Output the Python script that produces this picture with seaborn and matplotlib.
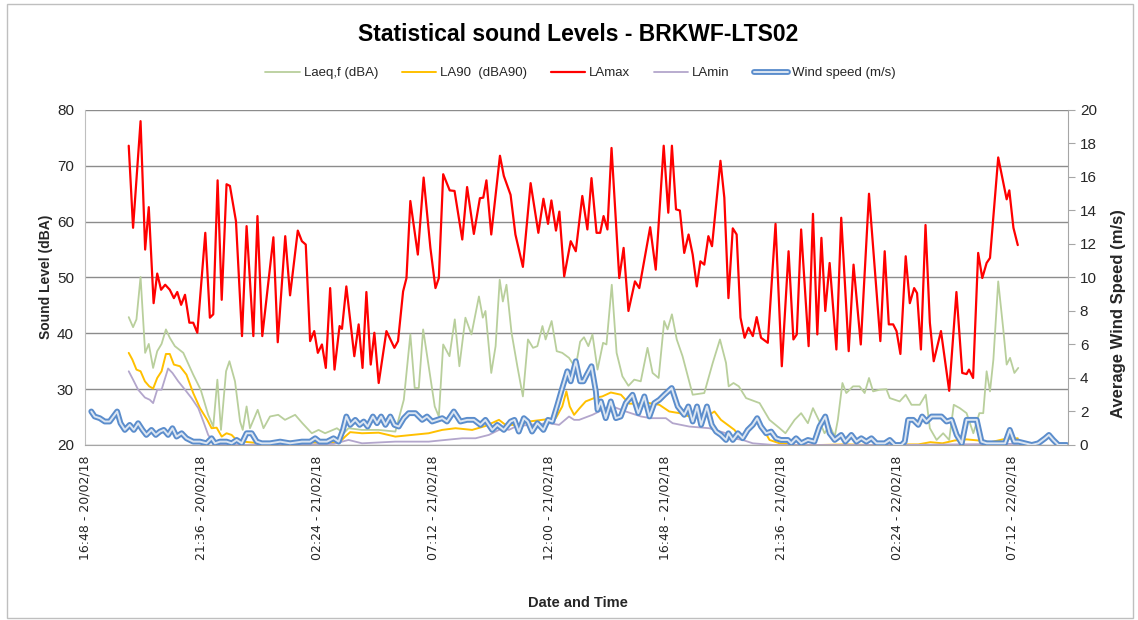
import numpy as np
import pandas as pd
import matplotlib
matplotlib.use('Agg')
import matplotlib.pyplot as plt
import matplotlib.patheffects as pe
from matplotlib.patches import Rectangle
import seaborn as sns

# hours after 16:48 20/02/18
start = pd.Timestamp('2018-02-20 16:48')

lamax_h = [1.81, 1.99, 2.30, 2.49, 2.64, 2.84, 2.99, 3.15, 3.32, 3.51, 3.68, 3.82, 3.98, 4.14, 4.32, 4.48,
           4.65, 4.98, 5.17, 5.31, 5.49, 5.66, 5.86, 6.00, 6.25, 6.50, 6.69, 6.97, 7.14, 7.34, 7.80, 7.98,
           8.29, 8.49, 8.81, 8.98, 9.14, 9.32, 9.49, 9.64, 9.81, 9.97, 10.15, 10.33, 10.54, 10.64, 10.82,
           11.15, 11.33, 11.49, 11.65, 11.83, 11.98, 12.16, 12.48, 12.81, 12.96, 13.17, 13.31, 13.47,
           13.78, 14.02, 14.30, 14.51, 14.65, 14.83, 15.10, 15.30, 15.62, 15.82, 16.10, 16.35, 16.49,
           16.62, 16.82, 17.18, 17.34, 17.62, 17.82, 18.13, 18.45, 18.77, 18.98, 19.17, 19.31, 19.50,
           19.64, 19.84, 20.11, 20.32, 20.59, 20.80, 20.97, 21.18, 21.33, 21.47, 21.63, 21.80, 22.12,
           22.30, 22.50, 22.77, 22.95, 23.40, 23.63, 23.96, 24.15, 24.30, 24.47, 24.63, 24.81, 24.99,
           25.16, 25.33, 25.48, 25.64, 25.81, 25.96, 26.31, 26.47, 26.64, 26.82, 26.98, 27.14, 27.31,
           27.47, 27.65, 27.81, 27.99, 28.27, 28.59, 28.85, 29.13, 29.33, 29.47, 29.65, 29.96, 30.14,
           30.32, 30.49, 30.65, 30.83, 31.11, 31.31, 31.62, 31.82, 32.12, 32.46, 32.93, 33.11, 33.28,
           33.46, 33.60, 33.76, 33.98, 34.15, 34.33, 34.45, 34.61, 34.80, 34.98, 35.14, 35.44, 35.78,
           36.08, 36.32, 36.50, 36.60, 36.77, 36.98, 37.15, 37.33, 37.47, 37.81, 38.16, 38.27, 38.44, 38.62]
lamax = [73.6, 58.9, 78.0, 55.0, 62.6, 45.4, 50.7, 47.8, 48.7, 47.8, 46.3, 47.4, 45.1, 46.9, 41.9, 41.9,
         40.1, 58.0, 42.8, 43.4, 67.4, 46.0, 66.7, 66.4, 60.1, 39.5, 59.2, 39.5, 61.0, 39.5, 57.2, 38.4,
         57.4, 46.8, 58.4, 56.5, 55.9, 38.6, 40.4, 36.5, 38.0, 33.8, 48.1, 33.5, 41.3, 40.8, 48.4,
         35.9, 41.6, 33.8, 47.4, 34.4, 40.1, 31.1, 40.4, 37.4, 38.6, 47.5, 49.9, 63.7,
         54.1, 67.9, 55.3, 48.1, 49.9, 68.5, 65.6, 65.5, 56.8, 66.2, 57.8, 64.2, 64.3,
         67.4, 57.7, 71.8, 68.2, 64.8, 57.7, 51.9, 66.9, 58.0, 64.1, 59.6, 63.8, 58.4,
         61.8, 50.2, 56.5, 54.7, 64.6, 58.6, 67.8, 58.0, 58.0, 61.0, 58.6, 73.2, 49.9,
         55.3, 44.0, 49.3, 48.1, 59.0, 51.4, 73.6, 61.6, 73.6, 62.2, 62.0, 54.4, 57.7,
         54.1, 48.4, 52.9, 52.3, 57.4, 55.6, 70.9, 64.3, 46.3, 58.8, 57.7, 42.8, 39.2,
         41.0, 39.5, 42.9, 39.2, 38.3, 59.6, 34.1, 54.7, 38.9, 39.8, 58.6, 37.7, 61.4,
         39.8, 57.1, 44.0, 52.6, 37.1, 60.7, 36.8, 52.3, 38.0, 65.0, 38.6, 54.7, 41.6,
         41.6, 40.4, 36.3, 53.8, 45.4, 48.1, 47.2, 37.1, 59.4, 41.9, 35.0, 40.4, 29.7,
         47.4, 32.9, 32.7, 33.5, 32.0, 54.4, 49.9, 52.6, 53.5, 71.5, 64.0, 65.6, 58.9, 55.8]

laeq_h = [1.81, 1.99, 2.13, 2.30, 2.49, 2.64, 2.82, 2.99, 3.17, 3.35, 3.51, 3.72, 4.07, 4.48, 4.79, 5.10,
          5.31, 5.48, 5.63, 5.84, 5.98, 6.21, 6.42, 6.53, 6.69, 6.83, 7.15, 7.39, 7.66, 8.00, 8.28, 8.70,
          9.00, 9.39, 9.67, 9.94, 10.43, 10.71, 10.91, 11.46, 12.15, 12.85, 13.20, 13.47, 13.65, 13.82,
          14.00, 14.23, 14.48, 14.65, 14.83, 15.09, 15.31, 15.50, 15.75, 16.00, 16.31, 16.47, 16.58,
          16.82, 17.00, 17.17, 17.30, 17.45, 17.66, 17.90, 18.13, 18.34, 18.55, 18.73, 18.94, 19.07,
          19.32, 19.53, 19.76, 20.04, 20.31, 20.50, 20.66, 20.84, 21.01, 21.22, 21.45, 21.59, 21.81,
          22.01, 22.25, 22.50, 22.74, 23.01, 23.29, 23.50, 23.75, 23.98, 24.12, 24.30, 24.50, 24.74,
          25.16, 25.64, 25.99, 26.29, 26.54, 26.65, 26.85, 27.07, 27.37, 27.93, 28.34, 28.76, 29.00,
          29.38, 29.65, 29.93, 30.14, 30.41, 30.62, 30.83, 31.04, 31.17, 31.36, 31.52, 31.80, 32.07,
          32.28, 32.46, 32.63, 32.90, 33.18, 33.32, 33.73, 33.98, 34.22, 34.56, 34.81, 34.98, 35.26,
          35.53, 35.78, 35.97, 36.22, 36.50, 36.78, 37.03, 37.19, 37.33, 37.47, 37.61, 37.81, 38.02,
          38.16, 38.30, 38.48, 38.64]
laeq = [42.9, 41.1, 42.5, 50.1, 36.5, 38.1, 33.8, 36.8, 38.1, 40.7, 39.2, 37.7, 36.5, 32.6, 29.9, 25.4,
        23.3, 31.7, 22.7, 33.2, 35.0, 31.4, 24.2, 22.7, 26.9, 23.0, 26.3, 23.0, 25.1, 25.4, 24.5, 25.4,
        23.9, 22.1, 22.7, 22.1, 23.0, 22.1, 23.0, 22.7, 22.7, 22.4, 28.1, 39.8, 30.2, 30.2,
        40.7, 34.1, 26.9, 25.1, 38.0, 35.9, 42.5, 34.1, 42.8, 39.8, 46.6, 42.8, 44.0,
        32.9, 37.7, 49.6, 45.7, 48.7, 40.1, 34.1, 28.7, 38.9, 37.4, 37.7, 41.3, 38.9,
        42.2, 36.8, 36.5, 35.6, 33.8, 38.5, 39.3, 37.7, 39.8, 33.5, 38.3, 38.0, 48.7,
        36.5, 32.3, 30.6, 31.7, 31.4, 37.4, 32.9, 32.0, 42.2, 40.7, 43.4, 38.9, 35.9,
        29.0, 29.3, 34.7, 38.9, 34.7, 30.5, 31.1, 30.5, 28.4, 27.5, 24.5, 23.0, 22.1,
        24.5, 25.7, 23.9, 26.6, 24.2, 22.1, 23.5, 21.5, 24.5, 31.1, 29.3, 30.5, 30.5,
        29.3, 32.0, 29.6, 29.9, 30.0, 28.4, 27.8, 29.0, 27.2, 27.2, 29.0, 23.0, 20.9,
        22.1, 20.9, 27.2, 26.6, 25.7, 22.1, 25.7, 25.7, 33.2, 29.6, 35.3, 49.3, 40.7,
        34.4, 35.6, 32.9, 33.8]

la90_h = [1.81, 1.96, 2.13, 2.30, 2.48, 2.66, 2.82, 2.99, 3.17, 3.35, 3.51, 3.68, 3.93, 4.20, 4.48, 4.76,
          5.06, 5.24, 5.45, 5.66, 5.86, 6.07, 6.25, 6.56, 7.25, 7.94, 8.49, 9.32, 9.88, 10.57, 10.77,
          10.98, 11.47, 12.16, 12.85, 13.54, 14.23, 14.79, 15.34, 16.03, 16.58, 17.14, 17.41, 17.83,
          18.38, 18.93, 19.49, 19.76, 19.93, 20.07, 20.25, 20.46, 20.73, 21.08, 21.42, 21.77, 22.19,
          22.53, 22.95, 23.36, 23.78, 24.19, 24.61, 25.02, 25.44, 25.85, 26.06, 26.33, 26.61, 26.89,
          27.10, 27.37, 27.72, 27.99, 28.34, 28.76, 29.45, 30.5, 31.5, 32.5, 33.5, 34.5, 35.0, 35.5,
          36.0, 36.5, 37.0, 37.5, 38.0, 38.62]
la90 = [36.5, 35.3, 33.5, 33.2, 31.4, 30.5, 30.1, 32.0, 33.2, 36.3, 36.3, 34.4, 34.1, 32.6, 29.3, 26.6,
        24.5, 23.0, 23.1, 21.5, 22.1, 21.8, 21.0, 20.6, 20.3, 20.1, 20.6, 20.5, 20.3, 20.6, 21.5,
        22.3, 22.1, 22.2, 21.5, 21.8, 22.1, 22.7, 23.0, 22.7, 23.4, 24.5, 23.6, 23.6,
        24.2, 24.5, 24.8, 26.9, 29.6, 26.9, 25.4, 26.5, 27.8, 28.4, 28.7, 29.4, 29.0,
        27.4, 27.4, 27.5, 27.2, 26.0, 25.7, 25.1, 25.0, 25.4, 26.0, 24.5, 23.6, 22.7,
        21.5, 22.1, 24.2, 23.6, 20.9, 20.3, 20.0, 20.0, 20.1, 20.0, 20.1, 20.1, 20.5, 20.3,
        20.8, 21.0, 20.8, 20.5, 21.0, 21.2]

lamin_h = [1.81, 1.99, 2.20, 2.48, 2.68, 2.82, 2.99, 3.17, 3.44, 3.62, 3.86, 4.14, 4.41, 4.69, 4.90, 5.10,
           5.31, 5.59, 6.5, 7.5, 8.5, 9.5, 10.3, 10.91, 11.47, 12.85, 14.23, 14.92, 15.62, 16.17, 16.72,
           17.28, 17.55, 17.83, 18.38, 19.21, 19.63, 20.04, 20.25, 20.46, 21.01, 21.56, 21.84, 22.39,
           23.02, 23.43, 24.05, 24.33, 25.02, 25.85, 26.54, 26.82, 27.23, 27.65, 28.5, 30.0, 32.0, 34.0,
           36.0, 38.62]
lamin = [33.2, 31.7, 29.9, 28.5, 28.1, 27.5, 29.9, 29.9, 33.7, 32.9, 31.4, 29.9, 28.4, 26.6, 24.2, 21.8,
         20.5, 20.1, 20.0, 20.1, 20.0, 20.1, 20.2, 20.9, 20.3, 20.6, 20.6, 20.9, 21.2, 21.2, 21.8,
         23.0, 22.7, 23.3, 23.6, 23.9, 23.6, 25.1, 24.5, 24.5, 25.4, 26.6, 26.9, 26.0,
         25.1, 24.8, 24.8, 23.9, 23.3, 23.0, 22.1, 21.2, 20.9, 20.3, 20.0, 20.0, 20.0, 20.0,
         20.1, 20.2]

wind_h = [0.26, 0.40, 0.61, 0.82, 1.02, 1.23, 1.33, 1.47, 1.65, 1.85, 2.02, 2.20, 2.38, 2.54, 2.75, 2.93,
          3.10, 3.26, 3.44, 3.62, 3.79, 4.00, 4.20, 4.48, 4.76, 5.03, 5.24, 5.38, 5.59, 5.86, 6.07, 6.28,
          6.49, 6.69, 6.90, 7.11, 7.32, 7.66, 8.08, 8.49, 8.98, 9.32, 9.53, 9.71, 10.02, 10.29, 10.50,
          10.68, 10.82, 10.98, 11.19, 11.37, 11.54, 11.70, 11.92, 12.09, 12.26, 12.44, 12.64, 12.81,
          12.99, 13.20, 13.40, 13.68, 13.96, 14.16, 14.37, 14.58, 14.79, 14.99, 15.27, 15.54, 15.82,
          16.10, 16.37, 16.58, 16.86, 17.07, 17.34, 17.62, 17.78, 17.96, 18.17, 18.33, 18.51, 18.73,
          18.98, 19.17, 19.35, 19.56, 19.76, 19.97, 20.11, 20.32, 20.50, 20.64, 20.78, 20.97, 21.15,
          21.22, 21.36, 21.56, 21.77, 21.98, 22.18, 22.39, 22.67, 22.91, 23.16, 23.37, 23.57, 23.78,
          23.99, 24.29, 24.54, 24.81, 24.98, 25.16, 25.34, 25.51, 25.75, 25.95, 26.13, 26.33, 26.54,
          26.64, 26.82, 27.03, 27.23, 27.44, 27.65, 27.83, 27.99, 28.20, 28.41, 28.61, 28.82, 29.10,
          29.24, 29.44, 29.65, 29.93, 30.20, 30.41, 30.65, 30.83, 31.04, 31.31, 31.48, 31.73, 31.94,
          32.14, 32.35, 32.56, 32.77, 33.11, 33.32, 33.53, 33.80, 33.94, 34.08, 34.29, 34.50, 34.66,
          34.84, 35.05, 35.26, 35.46, 35.67, 35.88, 36.09, 36.30, 36.50, 36.71, 36.92, 37.12, 37.33,
          37.54, 37.81, 38.09, 38.29, 38.47, 38.64, 38.92, 39.20, 39.47, 39.75, 39.91, 40.09, 40.30, 40.65]
wind = [2.0, 1.7, 1.6, 1.4, 1.4, 1.8, 2.0, 1.3, 0.9, 1.2, 0.9, 1.3, 0.9, 0.6, 0.9, 0.6,
        0.8, 0.9, 0.6, 1.0, 0.5, 0.7, 0.4, 0.2, 0.2, 0.1, 0.4, 0.1, 0.2, 0.2, 0.1, 0.3,
        0.1, 0.7, 0.7, 0.2, 0.1, 0.1, 0.2, 0.1, 0.2, 0.2, 0.4, 0.2, 0.2, 0.4, 0.2,
        0.9, 1.7, 1.2, 1.5, 1.2, 1.4, 1.1, 1.7, 1.3, 1.7, 1.2, 1.7, 1.2,
        1.1, 1.6, 1.9, 1.9, 1.5, 1.7, 1.4, 1.5, 1.6, 1.4, 2.0, 1.4, 1.5,
        1.5, 1.2, 1.5, 0.9, 1.2, 0.9, 1.4, 1.5, 0.8, 1.6, 1.4, 0.8, 1.3,
        0.9, 1.5, 1.4, 2.4, 3.4, 4.4, 3.8, 5.0, 3.8, 3.8, 4.2, 4.7, 3.2,
        2.1, 2.6, 1.6, 2.6, 1.6, 1.7, 2.5, 3.0, 1.9, 2.9, 1.7, 2.5, 2.7,
        3.0, 3.4, 2.3, 1.8, 2.3, 1.4, 2.3, 1.2, 2.3, 1.2, 0.8, 0.6, 0.3,
        0.7, 0.3, 0.7, 0.4, 0.9, 1.2, 1.6, 1.1, 0.7, 0.8, 0.4, 0.3, 0.3,
        0.1, 0.4, 0.1, 0.3, 0.2, 1.1, 1.7, 0.7, 0.3, 0.6, 0.2, 0.6, 0.2,
        0.4, 0.2, 0.4, 0.1, 0.1, 0.3, 0.0, 0.0, 0.2, 1.5, 1.5, 1.2, 1.7,
        1.4, 1.7, 1.7, 1.7, 1.4, 1.5, 0.6, 0.1, 1.5, 1.5, 1.5, 0.2, 0.1,
        0.1, 0.1, 0.1, 0.9, 0.2, 0.2, 0.1, 0.0, 0.1, 0.4, 0.6, 0.3, 0.0, 0.0]

tick_minutes = np.arange(9) * 288
tick_labels = [(start + pd.Timedelta(minutes=int(m))).strftime('%H:%M - %d/%m/%y') for m in tick_minutes]

sns.set_style('white')
plt.rcParams['font.family'] = ['Liberation Sans Narrow', 'Liberation Sans', 'DejaVu Sans']

fig = plt.figure(figsize=(11.38, 6.2), dpi=100)
ax = fig.add_axes([0.0747, 0.2823, 0.8638, 0.5403])
ax2 = ax.twinx()

sound = [
    (laeq_h, laeq, 'Laeq,f (dBA)', '#b9cf9c', 1.3),
    (la90_h, la90, 'LA90  (dBA90)', '#ffc000', 1.4),
    (lamax_h, lamax, 'LAmax', '#ff0000', 1.6),
    (lamin_h, lamin, 'LAmin', '#b3a6cc', 1.3),
]
for h, v, name, col, lw in sound:
    df = pd.DataFrame({'hours': h, 'level': v})
    sns.lineplot(data=df, x='hours', y='level', ax=ax, color=col, lw=lw,
                 label=name, legend=False, errorbar=None, solid_joinstyle='round')

wdf = pd.DataFrame({'hours': wind_h, 'speed': wind})
sns.lineplot(data=wdf, x='hours', y='speed', ax=ax2, color='#dce6f2', lw=1.4,
             label='Wind speed (m/s)', legend=False, errorbar=None,
             path_effects=[pe.Stroke(linewidth=4.2, foreground='#5b8dcc'), pe.Normal()])

ax.set_xlim(0, 40.7)
ax.set_ylim(20, 80)
ax.set_yticks(range(20, 81, 10))
ax2.set_ylim(0, 20)
ax2.set_yticks(range(0, 21, 2))
ax.set_xticks(tick_minutes / 60)
ax.set_xticklabels(tick_labels, rotation=90, fontsize=9, family='DejaVu Sans', color='#262626')
ax.set_xlabel('')
ax.set_ylabel('')
ax2.set_ylabel('')
ax.yaxis.grid(True, color='#8c8c8c', lw=1)
ax.tick_params(axis='y', labelsize=11, length=0, pad=8, colors='#262626')
ax.tick_params(axis='x', length=4, color='#a6a6a6', direction='out')
ax2.tick_params(axis='y', labelsize=11, length=5, direction='out', colors='#262626')
ax2.tick_params(axis='y', color='#a6a6a6')

for s in ['top', 'right']:
    ax.spines[s].set_visible(False)
ax.spines['left'].set_color('#bfbfbf')
ax.spines['bottom'].set_color('#a6a6a6')
for s in ['top', 'left', 'bottom']:
    ax2.spines[s].set_visible(False)
ax2.spines['right'].set_color('#a6a6a6')

fig.text(0.508, 0.944, 'Statistical sound Levels - BRKWF-LTS02', ha='center', va='center',
         fontsize=16.5, fontweight='bold', color='#000000')
fig.text(0.508, 0.027, 'Date and Time', ha='center', va='center', fontsize=10.5, fontweight='bold')
fig.text(0.040, 0.553, 'Sound Level (dBA)', ha='center', va='center', rotation=90,
         fontsize=10, fontweight='bold')
fig.text(0.983, 0.495, 'Average Wind Speed (m/s)', ha='center', va='center', rotation=90,
         fontsize=12, fontweight='bold')

handles, labels = ax.get_legend_handles_labels()
h2, l2 = ax2.get_legend_handles_labels()
fig.legend(handles + h2, labels + l2, loc='center', bbox_to_anchor=(0.51, 0.882), ncol=5,
           frameon=False, fontsize=9.5, handlelength=2.6, columnspacing=1.8, handletextpad=0.3)

fig.patches.append(Rectangle((0.006, 0.004), 0.99, 0.99, transform=fig.transFigure,
                             fill=False, edgecolor='#bfbfbf', lw=1))

fig.savefig('out.png', dpi=100)
